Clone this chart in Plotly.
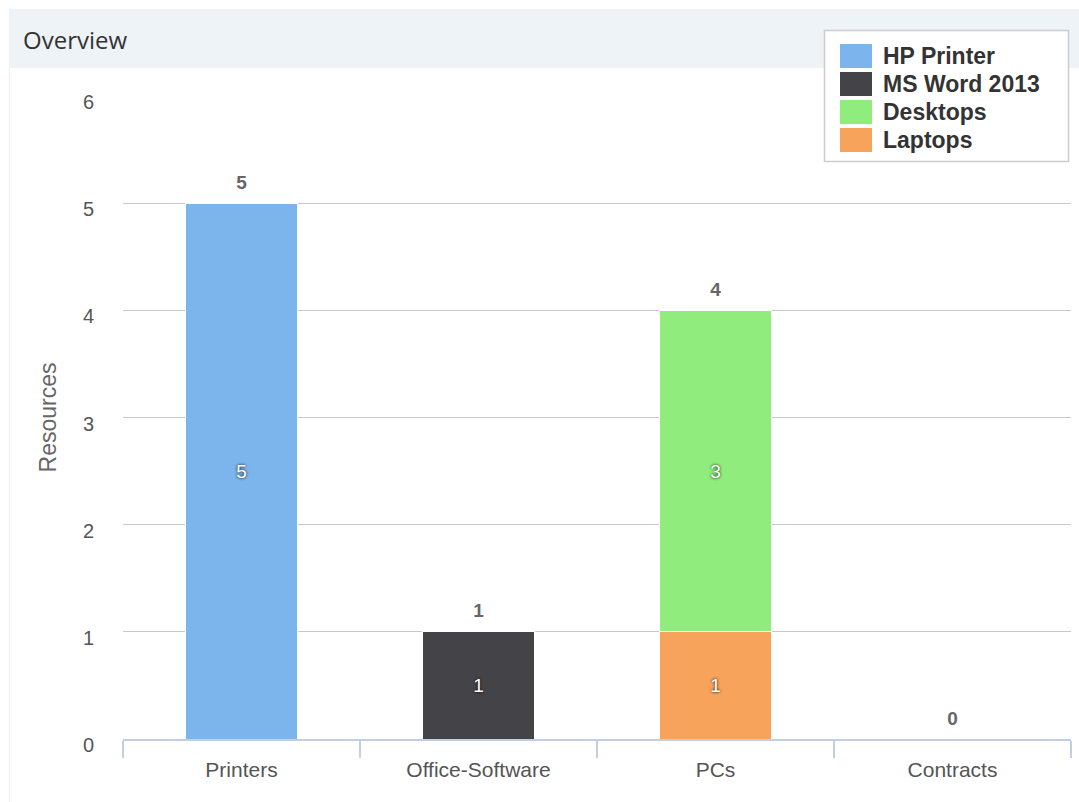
import plotly.graph_objects as go

categories = ['Printers', 'Office-Software', 'PCs', 'Contracts']
hp_printer = [5, 0, 0, 0]
ms_word = [0, 1, 0, 0]
desktops = [0, 0, 3, 0]
laptops = [0, 0, 1, 0]
legend_names = ['HP Printer', 'MS Word 2013', 'Desktops', 'Laptops']
colors = ['#7cb5ec', '#434348', '#90ed7d', '#f7a35c']

W, H = 1079, 802
L, R, T, B = 123, 8, 96, 63
FONT = 'Liberation Sans, Arial'


def px_x(p):
    return (p - L) / (W - L - R)


def px_y(p):
    return 1 - (p - T) / (H - T - B)


def bar(name, values, color):
    return go.Bar(
        x=categories, y=values, name=name,
        marker=dict(color=color, line=dict(color='#ffffff', width=1)),
        text=[str(v) if v else '' for v in values],
        textposition='inside', insidetextanchor='middle',
        textfont=dict(family=FONT, size=19, color='#ffffff',
                      shadow='0px 0px 3px #000000'),
        hoverinfo='skip', showlegend=False,
    )


fig = go.Figure()
# stacking order: laptops at the bottom of PCs, desktops on top
fig.add_trace(bar('HP Printer', hp_printer, colors[0]))
fig.add_trace(bar('MS Word 2013', ms_word, colors[1]))
fig.add_trace(bar('Laptops', laptops, colors[3]))
fig.add_trace(bar('Desktops', desktops, colors[2]))

totals = [a + b + c + d for a, b, c, d in zip(hp_printer, ms_word, desktops, laptops)]
fig.add_trace(go.Scatter(
    x=categories, y=totals, mode='markers+text', text=[str(t) for t in totals],
    marker=dict(size=14, opacity=0),
    textposition='top center',
    textfont=dict(family=FONT, size=19, color='#666666', weight='bold'),
    showlegend=False, hoverinfo='skip', cliponaxis=False,
))

shapes = [
    # header band
    dict(type='rect', xref='paper', yref='paper', layer='below',
         x0=px_x(9), x1=px_x(W + 5), y0=px_y(9), y1=px_y(68),
         fillcolor='#eef3f8', line=dict(width=0)),
    # left panel border
    dict(type='line', xref='paper', yref='paper', layer='below',
         x0=px_x(9.5), x1=px_x(9.5), y0=px_y(68), y1=px_y(H + 5),
         line=dict(color='#eeeeee', width=1)),
    # legend box
    dict(type='rect', xref='paper', yref='paper', layer='above',
         x0=px_x(824.5), x1=px_x(1068.5), y0=px_y(30.5), y1=px_y(161.5),
         fillcolor='#ffffff', line=dict(color='#cccccc', width=1.5)),
]
annotations = [
    dict(text='Overview', xref='paper', yref='paper', x=px_x(21), y=px_y(39),
         xanchor='left', yanchor='middle', showarrow=False,
         font=dict(family='Open Sans, Liberation Sans', size=24, color='#333333')),
]

# legend entries
for i, name in enumerate(legend_names):
    yc = 56 + i * 28
    shapes.append(dict(type='rect', xref='paper', yref='paper', layer='above',
                       x0=px_x(840), x1=px_x(872), y0=px_y(yc - 12), y1=px_y(yc + 12),
                       fillcolor=colors[i], line=dict(width=0)))
    annotations.append(dict(text=name, xref='paper', yref='paper', x=px_x(881), y=px_y(yc),
                            xanchor='left', yanchor='middle', showarrow=False,
                            font=dict(family=FONT, size=23, color='#333333', weight='bold')))

fig.update_layout(
    width=W, height=H,
    margin=dict(l=L, r=R, t=T, b=B),
    paper_bgcolor='#ffffff', plot_bgcolor='#ffffff',
    barmode='stack', bargap=0.53,
    shapes=shapes, annotations=annotations,
    font=dict(family=FONT, color='#666666'),
    xaxis=dict(
        type='category', showgrid=False, showline=True, linecolor='#c0d0e0', linewidth=1.5,
        ticks='outside', tickson='boundaries', ticklen=17, tickcolor='#c0d0e0', tickwidth=1.5,
        ticklabelstandoff=11, tickfont=dict(size=21, color='#555555'), fixedrange=True,
    ),
    yaxis=dict(
        range=[0, 6], dtick=1, showgrid=True, gridcolor='#c8c8c8', gridwidth=1,
        zeroline=False, showline=False, ticks='', ticklabelstandoff=28, ticklabelshift=6,
        tickfont=dict(size=20, color='#555555'),
        title=dict(text='Resources', standoff=19, font=dict(size=23, color='#666666')),
    ),
)

fig.write_html('out.html', config={'displayModeBar': False},
               post_script="document.body.style.margin='0';")
